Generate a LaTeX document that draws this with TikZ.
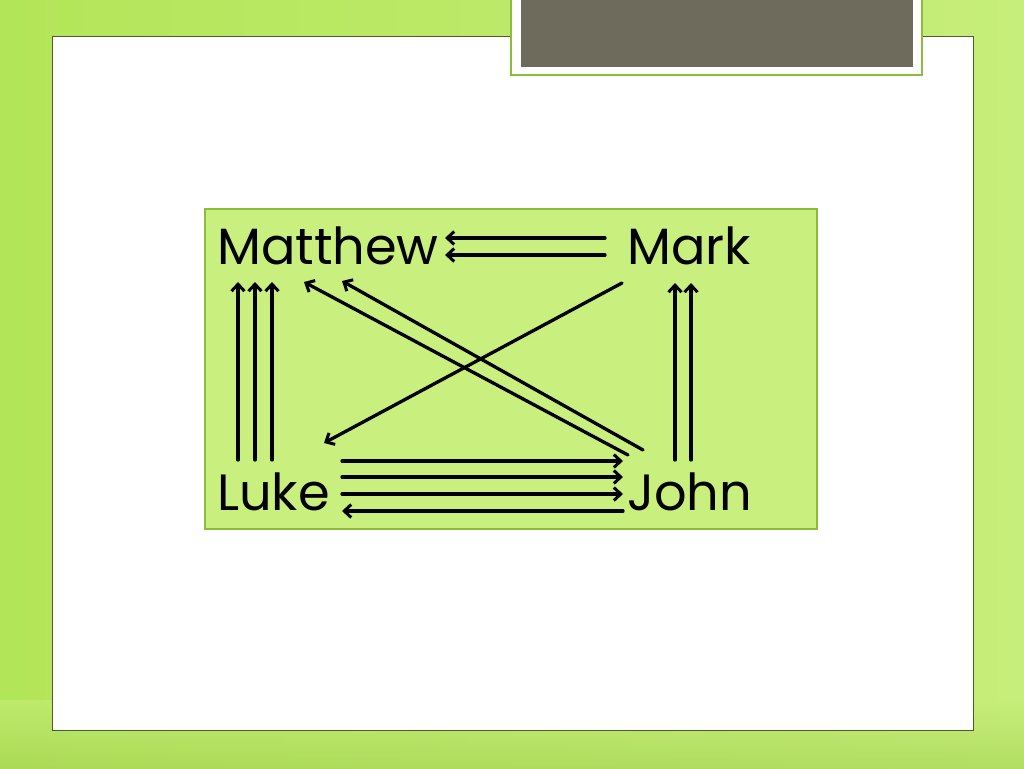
\documentclass[tikz,border=0pt]{standalone}
\usepackage{fontspec}
\setmainfont{Poppins}
\usetikzlibrary{arrows.meta}
\definecolor{leafdark}{HTML}{B3E558}
\definecolor{leaflight}{HTML}{C6EE7A}
\definecolor{leafbottom}{HTML}{A6D455}
\definecolor{panelline}{HTML}{4F5C2A}
\definecolor{boxfill}{HTML}{C9EF7E}
\definecolor{boxline}{HTML}{8CBD3A}
\definecolor{titlegrey}{HTML}{6E6A5C}

\begin{document}
\begin{tikzpicture}[x=1pt,y=-1pt,
    gospel/.style={anchor=base west,inner sep=0pt,font=\fontsize{51}{60}\selectfont},
    link/.style={-{Straight Barb[length=7pt,width=13pt,line width=3pt]},line width=3.3pt,line cap=round}]
    \useasboundingbox (0,0) rectangle (1024,768);
    % slide background
    \shade[left color=leafdark,right color=leaflight] (0,0) rectangle (1024,768);
    \shade[top color=leaflight,bottom color=leafbottom,opacity=0.6] (0,700) rectangle (1024,768);
    \draw[fill=white,draw=panelline,line width=1pt] (52,37) rectangle (973,730);
    \draw[fill=white,draw=boxline,line width=1.5pt] (511,-2) rectangle (922,75);
    \fill[titlegrey] (521,-2) rectangle (913,67);
    \draw[fill=boxfill,draw=boxline,line width=1.2pt] (205,209) rectangle (817,529);

    \node[gospel] (matthew) at (217, 264) {Matthew};
    \node[gospel] (mark) at (627, 264) {Mark};
    \node[gospel] (luke) at (217, 510) {Luke};
    \node[gospel] (john) at (627, 510) {John};

    % Mark to Matthew
    \draw [link] ([shift={(-22,-26)}]mark.base west) to ([shift={(228,-26)}]matthew.base west);
    \draw [link] ([shift={(-22,-9)}]mark.base west) to ([shift={(228,-9)}]matthew.base west);
    % Luke to Matthew
    \draw [link] ([shift={(21,-50)}]luke.base west) to ([shift={(21,18)}]matthew.base west);
    \draw [link] ([shift={(38,-50)}]luke.base west) to ([shift={(38,18)}]matthew.base west);
    \draw [link] ([shift={(55,-50)}]luke.base west) to ([shift={(55,18)}]matthew.base west);
    % John to Matthew
    \draw [link] ([shift={(1,-55)}]john.base west) to ([shift={(87,18)}]matthew.base west);
    \draw [link] ([shift={(16,-60)}]john.base west) to ([shift={(125,17)}]matthew.base west);
    % Mark to Luke
    \draw [link] ([shift={(-5,19)}]mark.base west) to ([shift={(107,-67)}]luke.base west);
    % John to Mark
    \draw [link] ([shift={(48,-50)}]john.base west) to ([shift={(48,19)}]mark.base west);
    \draw [link] ([shift={(64,-50)}]john.base west) to ([shift={(64,19)}]mark.base west);
    % Luke and John
    \draw [link] ([shift={(125,-49)}]luke.base west) to ([shift={(-4,-49)}]john.base west);
    \draw [link] ([shift={(125,-33)}]luke.base west) to ([shift={(-4,-33)}]john.base west);
    \draw [link] ([shift={(125,-16)}]luke.base west) to ([shift={(-4,-16)}]john.base west);
    \draw [link] ([shift={(-4,1)}]john.base west) to ([shift={(125,1)}]luke.base west);
\end{tikzpicture}
\end{document}
